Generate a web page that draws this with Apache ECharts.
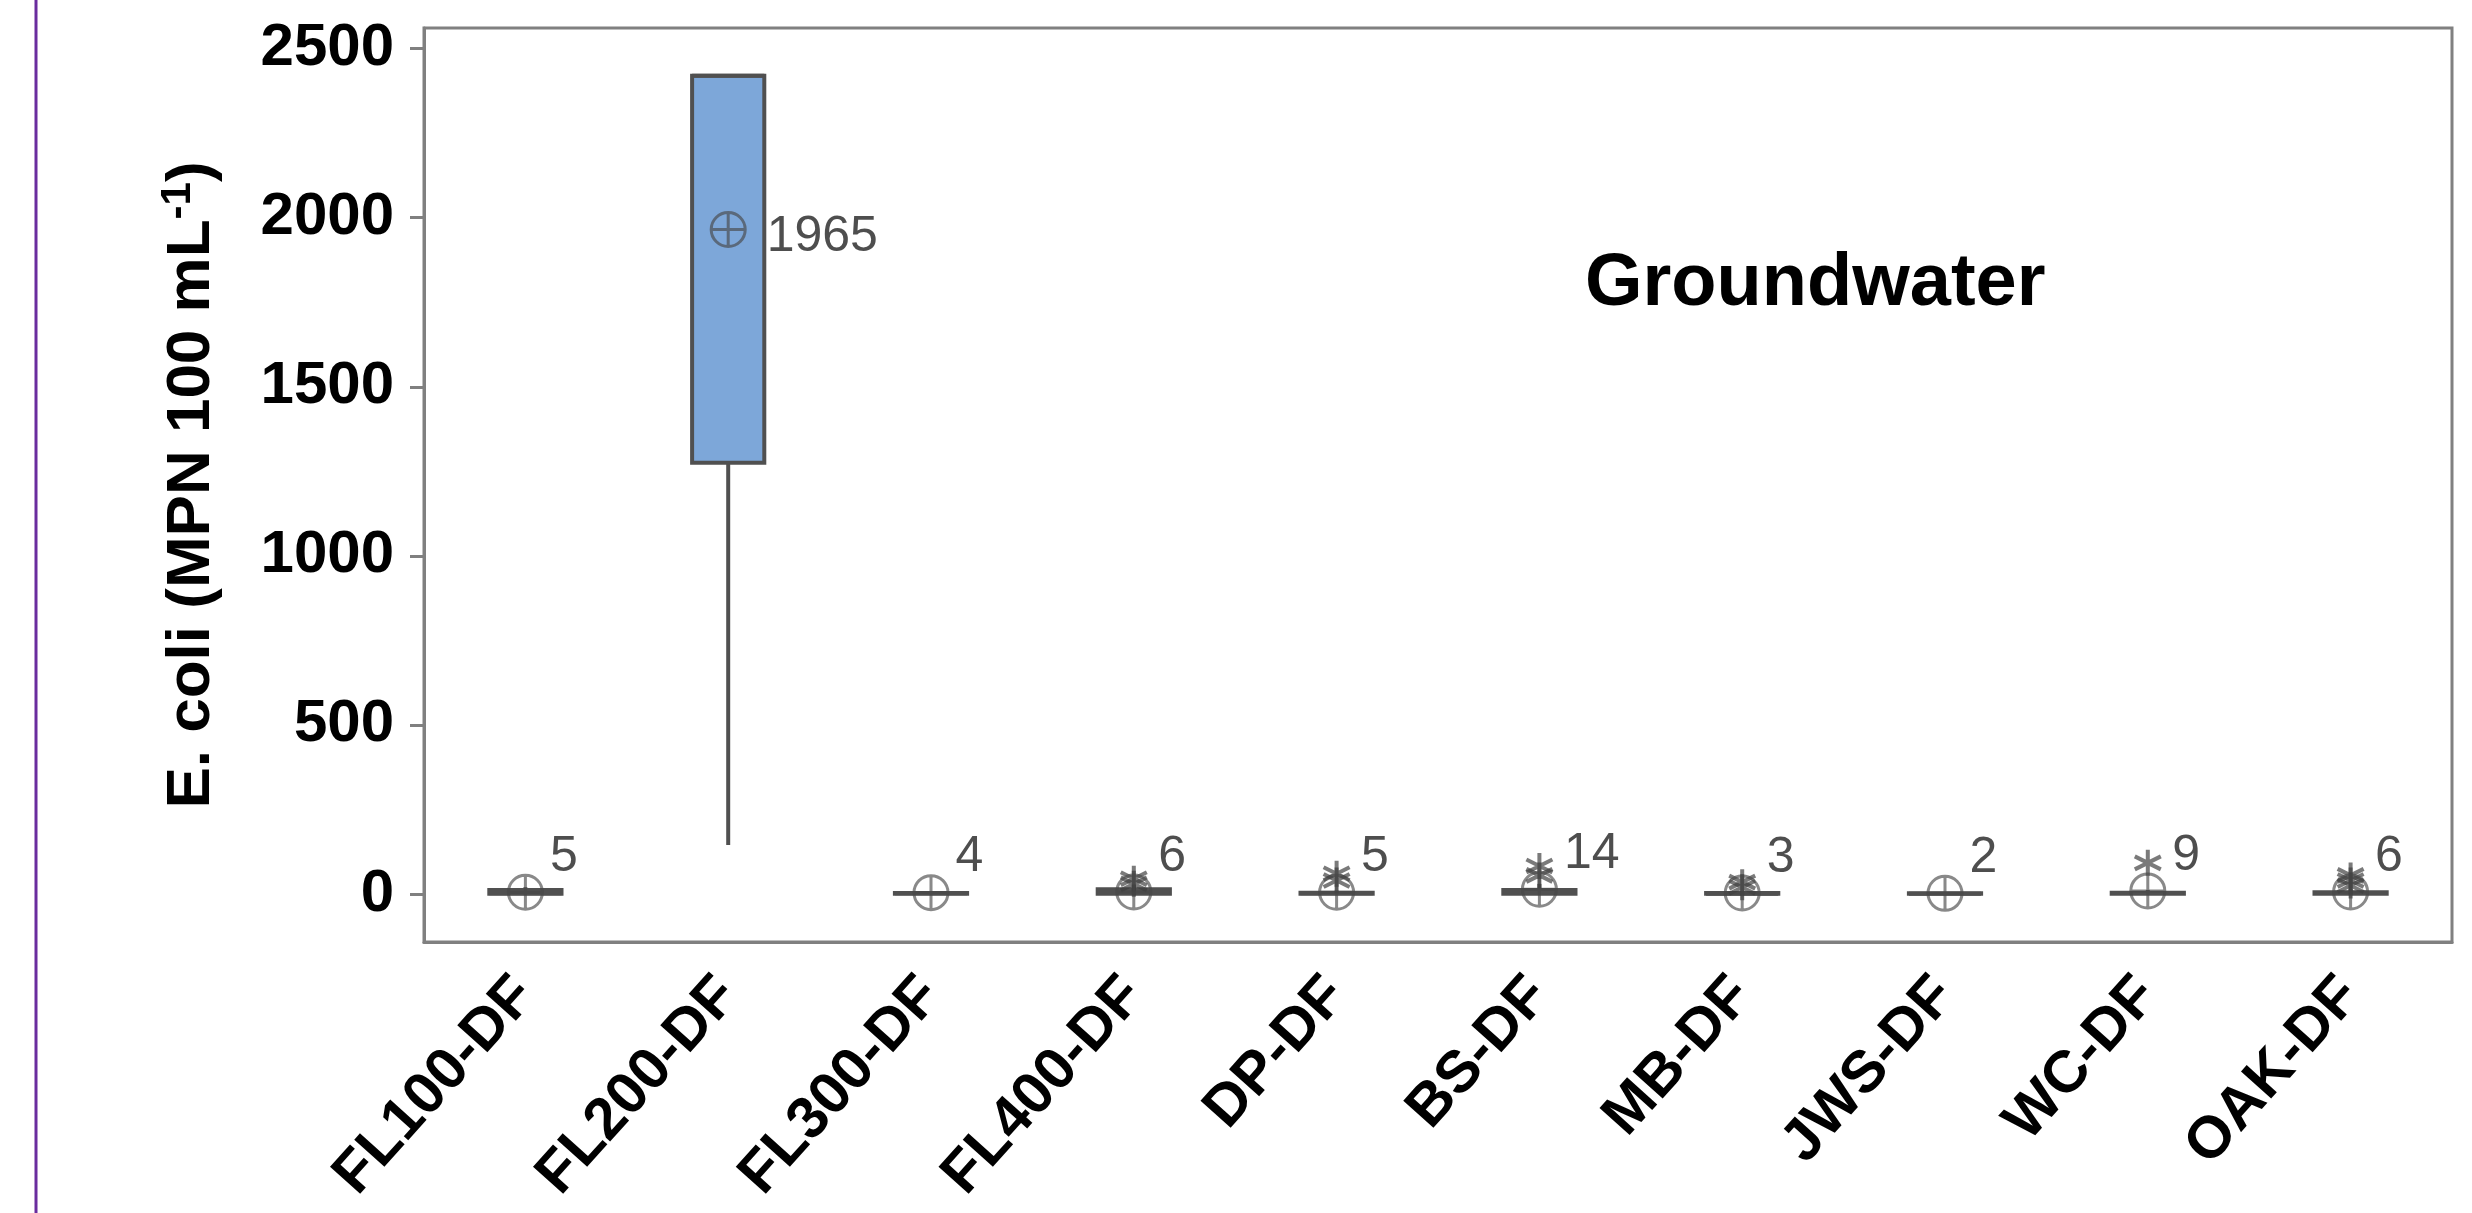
<!DOCTYPE html>
<html>
<head>
<meta charset="utf-8">
<title>Groundwater E. coli</title>
<script src="https://cdn.jsdelivr.net/npm/echarts@6/dist/echarts.min.js"></script>
<style>
  html, body { margin: 0; padding: 0; background: #fff; }
  #chart { width: 2472px; height: 1213px; }
</style>
</head>
<body>
<div id="chart"></div>
<script>
// sites
const categories = ['FL100-DF', 'FL200-DF', 'FL300-DF', 'FL400-DF', 'DP-DF', 'BS-DF', 'MB-DF', 'JWS-DF', 'WC-DF', 'OAK-DF'];

// box plot stats (MPN 100 mL-1)
const whiskerLow = [1, 145, 1, 1, 1, 1, 1, 1, 1, 1];
const q1 = [1, 1275, 1, 1, 1, 1, 1, 1, 1, 1];
const medians = [2, 2419.6, 2, 3, 2, 4, 1, 1, 3, 3];
const q3 = [12, 2419.6, 3, 14, 4, 12, 3, 2, 4, 5];
const whiskerHigh = [20, 2419.6, 8, 28, 10, 30, 6, 4, 12, 15];
const means = [5, 1965, 4, 6, 5, 14, 3, 2, 9, 6];
const outliers = [[], [], [], [30, 45], [40, 60], [55, 83], [20, 35], [], [92], [25, 40, 55]];

const yTicks = [0, 500, 1000, 1500, 2000, 2500];

const font = 'Liberation Sans, Arial, sans-serif';
const axisGray = '#808080';
const boxLine = '#505050';

const boxData = categories.map((c, i) => [i, whiskerLow[i], q1[i], medians[i], q3[i], whiskerHigh[i]]);

const meanData = means.map((m, i) => ({
  value: [i, m],
  label: { offset: m > 100 ? [12, 8] : [-2, -35] }
}));

const outlierData = [];
outliers.forEach((list, i) => {
  list.forEach(v => outlierData.push([i, v]));
});

// box + whiskers drawn through the axes
const renderBox = (params, api) => {
  const idx = api.value(0);
  const x = api.coord([idx, 0])[0];
  const half = api.size([1, 0])[0] * 0.178;
  const yAt = (d) => api.coord([idx, api.value(d)])[1];
  const yLow = yAt(1), yQ1 = yAt(2), yMed = yAt(3), yQ3 = yAt(4), yHigh = yAt(5);
  const line = { stroke: boxLine, lineWidth: 4 };
  return {
    type: 'group',
    children: [
      { type: 'line', shape: { x1: x, y1: yLow, x2: x, y2: yQ1 }, style: line },
      { type: 'line', shape: { x1: x, y1: yQ3, x2: x, y2: yHigh }, style: line },
      {
        type: 'rect',
        shape: { x: x - half, y: yQ3, width: half * 2, height: Math.max(yQ1 - yQ3, 0) },
        style: { fill: '#7DA7D9', stroke: boxLine, lineWidth: 4 }
      },
      { type: 'line', shape: { x1: x - half, y1: yMed, x2: x + half, y2: yMed }, style: line }
    ]
  };
};

const chart = echarts.init(document.getElementById('chart'));

chart.setOption({
  animation: false,
  backgroundColor: '#fff',
  title: {
    text: 'Groundwater',
    left: 1580,
    top: 243,
    textStyle: { fontFamily: font, fontSize: 74, fontWeight: 'bold', color: '#000' }
  },
  graphic: [{
    type: 'line',
    shape: { x1: 36, y1: 0, x2: 36, y2: 1213 },
    style: { stroke: '#6A2C9E', lineWidth: 3 }
  }],
  grid: {
    left: 424, right: 20, top: 28, bottom: 271,
    show: true, borderColor: axisGray, borderWidth: 3,
    backgroundColor: 'transparent'
  },
  xAxis: {
    type: 'category',
    data: categories,
    boundaryGap: true,
    axisLine: { onZero: false, lineStyle: { color: axisGray, width: 3 } },
    axisTick: { alignWithLabel: true, length: 14, lineStyle: { color: axisGray, width: 3 } },
    axisLabel: {
      interval: 0, rotate: 48, margin: 44,
      fontFamily: font, fontSize: 59, fontWeight: 'bold', color: '#000'
    },
    splitLine: { show: false }
  },
  yAxis: {
    type: 'value',
    min: -142,
    max: 2561,
    name: '{a|E. coli (MPN 100 mL}{s|-1}{a|)}',
    nameLocation: 'middle',
    nameGap: 197,
    nameTextStyle: {
      rich: {
        a: { fontFamily: font, fontSize: 62, fontWeight: 'bold', color: '#000', lineHeight: 70 },
        s: { fontFamily: font, fontSize: 42, fontWeight: 'bold', color: '#000', verticalAlign: 'top', lineHeight: 62 }
      }
    },
    axisLine: { show: true, onZero: false, lineStyle: { color: axisGray, width: 3 } },
    axisTick: { show: true, length: 14, customValues: yTicks, lineStyle: { color: axisGray, width: 3 } },
    axisLabel: {
      customValues: yTicks, margin: 30,
      formatter: (v) => String(v),
      fontFamily: font, fontSize: 60, fontWeight: 'bold', color: '#000'
    },
    splitLine: { show: false }
  },
  series: [
    {
      name: 'box',
      type: 'custom',
      renderItem: renderBox,
      encode: { x: 0, y: [1, 2, 3, 4, 5] },
      data: boxData,
      z: 2
    },
    {
      name: 'outliers',
      type: 'scatter',
      data: outlierData,
      symbol: 'path://M0,-10 L0,10 M-8.66,-5 L8.66,5 M-8.66,5 L8.66,-5',
      symbolSize: 26,
      itemStyle: { color: 'rgba(0,0,0,0)', borderColor: 'rgba(60,60,60,0.85)', borderWidth: 4 },
      z: 3
    },
    {
      name: 'mean',
      type: 'scatter',
      data: meanData,
      symbol: 'path://M0,-10 A10,10 0 1,1 0,10 A10,10 0 1,1 0,-10 Z M-10,0 L10,0 M0,-10 L0,10',
      symbolSize: 34,
      itemStyle: { color: 'rgba(0,0,0,0)', borderColor: 'rgba(70,70,70,0.8)', borderWidth: 3 },
      label: {
        show: true,
        position: 'right',
        distance: 8,
        formatter: (p) => String(p.value[1]),
        fontFamily: font,
        fontSize: 50,
        color: '#222'
      },
      z: 4
    }
  ]
});

window.addEventListener('resize', () => chart.resize());
</script>
</body>
</html>
